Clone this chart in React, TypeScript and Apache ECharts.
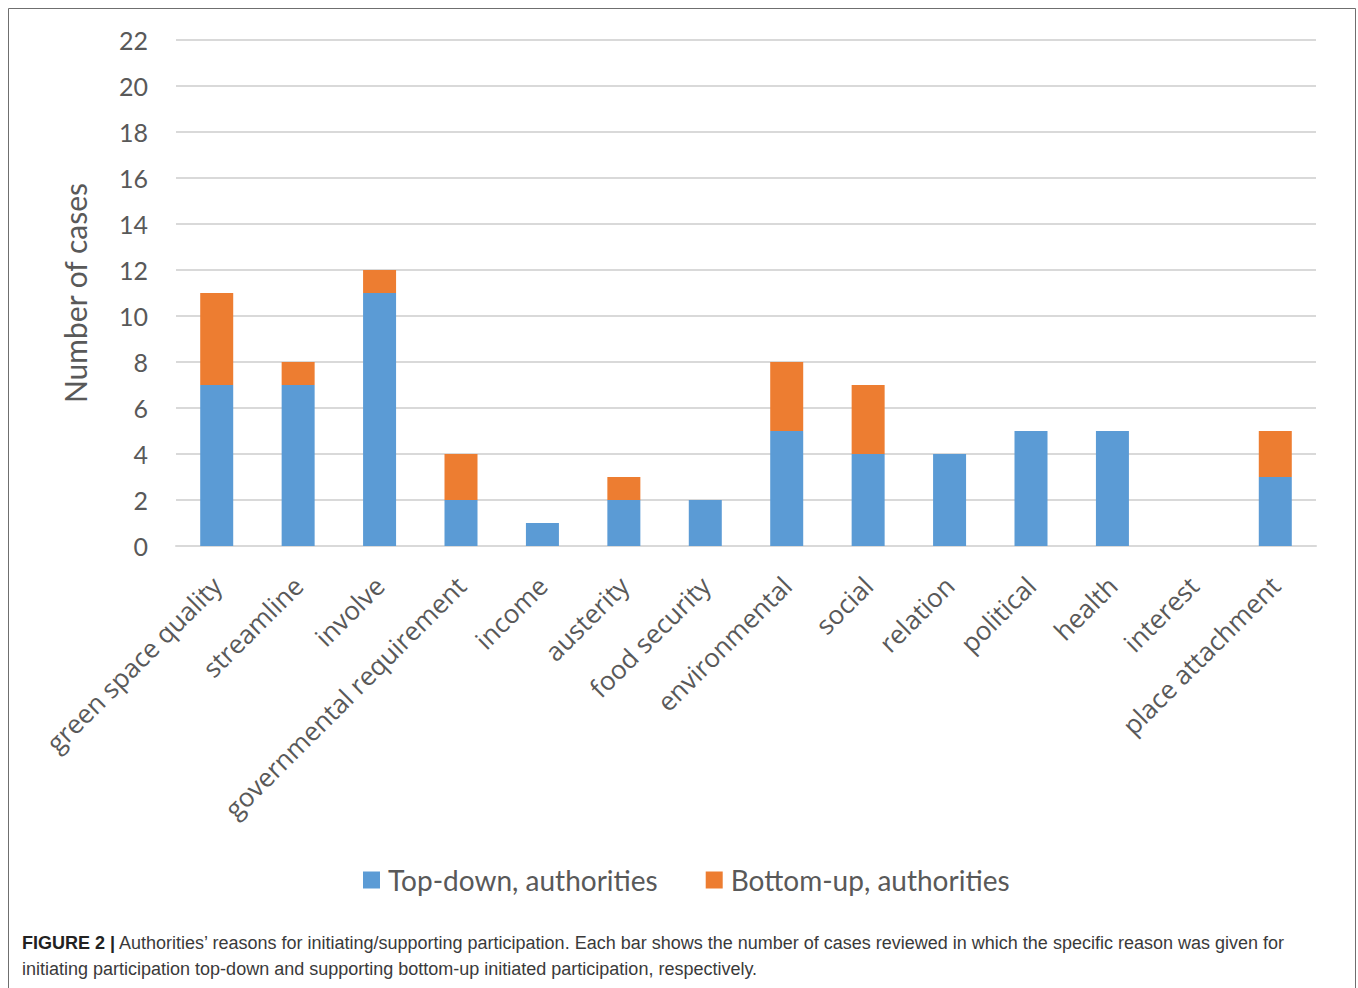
import React, { useEffect, useRef } from "react";
import * as echarts from "echarts";

const categories = [
  "green space quality",
  "streamline",
  "involve",
  "governmental requirement",
  "income",
  "austerity",
  "food security",
  "environmental",
  "social",
  "relation",
  "political",
  "health",
  "interest",
  "place attachment",
];
const topDown = [7, 7, 11, 2, 1, 2, 2, 5, 4, 4, 5, 5, 0, 3];
const bottomUp = [4, 1, 1, 2, 0, 1, 0, 3, 3, 0, 0, 0, 0, 2];
const seriesNames = ["Top-down, authorities", "Bottom-up, authorities"];
const captionLine1 =
  "Authorities\u2019 reasons for initiating/supporting participation. Each bar shows the number of cases reviewed in which the specific reason was given for";
const captionLine2 =
  "initiating participation top-down and supporting bottom-up initiated participation, respectively.";

const FONT = "Lato, 'Open Sans', sans-serif";
const LABEL_FONT = "'Open Sans', Lato, sans-serif";
const CAPTION_FONT = "'Liberation Sans', Arial, sans-serif";
const GREY = "#595959";

export default function App() {
  const ref = useRef<HTMLDivElement>(null);

  useEffect(() => {
    if (!ref.current) return;
    const chart = echarts.init(ref.current, undefined, { renderer: "svg" });
    chart.setOption({
      animation: false,
      backgroundColor: "#ffffff",
      textStyle: { fontFamily: FONT },
      grid: { left: 176, right: 42, top: 40, bottom: 442, containLabel: false },
      legend: {
        data: seriesNames,
        left: 358,
        top: 861,
        itemWidth: 17,
        itemHeight: 17,
        itemGap: 48,
        icon: "rect",
        textStyle: { fontSize: 28, color: GREY, fontFamily: FONT, padding: [0, 0, 0, 3] },
      },
      xAxis: {
        type: "category",
        data: categories,
        axisLine: { show: true, lineStyle: { color: "#d9d9d9", width: 2 } },
        axisTick: { show: false },
        axisLabel: {
          rotate: 45,
          interval: 0,
          fontSize: 26,
          color: GREY,
          margin: 35,
          fontFamily: LABEL_FONT,
        },
      },
      yAxis: {
        type: "value",
        min: 0,
        max: 22,
        interval: 2,
        name: "Number of cases",
        nameLocation: "middle",
        nameGap: 86,
        nameRotate: 90,
        nameTextStyle: { fontSize: 30, color: GREY, fontFamily: FONT },
        axisLine: { show: false },
        axisTick: { show: false },
        axisLabel: { fontSize: 25, color: GREY, margin: 28, fontFamily: FONT },
        splitLine: { lineStyle: { color: "#d9d9d9", width: 2 } },
      },
      series: [
        {
          name: seriesNames[0],
          type: "bar",
          stack: "total",
          data: topDown,
          barWidth: 33,
          itemStyle: { color: "#5b9bd5" },
        },
        {
          name: seriesNames[1],
          type: "bar",
          stack: "total",
          data: bottomUp,
          barWidth: 33,
          itemStyle: { color: "#ed7d31" },
        },
      ],
      graphic: [
        {
          type: "rect",
          shape: { x: 8.5, y: 8.5, width: 1347, height: 1010 },
          style: { fill: "none", stroke: "#6f6f6f", lineWidth: 1 },
          silent: true,
        },
        {
          type: "text",
          x: 22,
          y: 934,
          style: {
            text: "{b|FIGURE 2 |} " + captionLine1,
            fontSize: 18,
            fontFamily: CAPTION_FONT,
            fill: "#3a3a3a",
            rich: {
              b: {
                fontWeight: "bold",
                fontSize: 18,
                fontFamily: CAPTION_FONT,
                fill: "#222222",
              },
            },
          },
        },
        {
          type: "text",
          x: 22,
          y: 960,
          style: {
            text: captionLine2,
            fontSize: 18,
            fontFamily: CAPTION_FONT,
            fill: "#3a3a3a",
          },
        },
      ],
    });
    return () => chart.dispose();
  }, []);

  return (
    <div
      ref={ref}
      style={{ position: "absolute", left: 0, top: 0, width: 1358, height: 988 }}
    />
  );
}
